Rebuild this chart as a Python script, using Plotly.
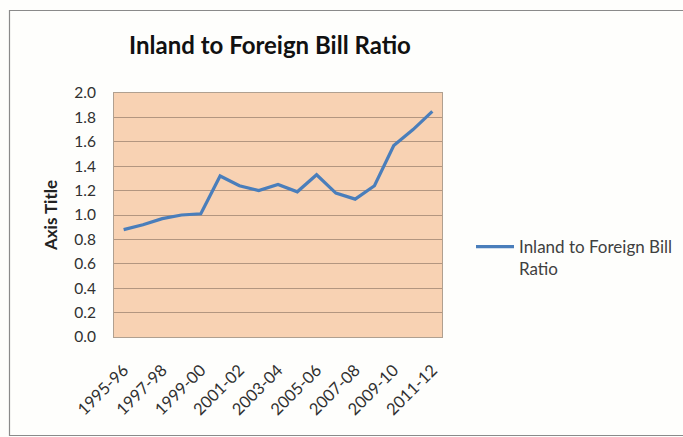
import plotly.graph_objects as go

# Fiscal years and the inland-to-foreign bill ratio for each
years = ["1995-96", "1996-97", "1997-98", "1998-99", "1999-00", "2000-01",
         "2001-02", "2002-03", "2003-04", "2004-05", "2005-06", "2006-07",
         "2007-08", "2008-09", "2009-10", "2010-11", "2011-12"]
ratio = [0.88, 0.92, 0.97, 1.00, 1.01, 1.32, 1.24, 1.20, 1.25, 1.19,
         1.33, 1.18, 1.13, 1.24, 1.57, 1.70, 1.85]
shown_years = years[::2]
y_ticks = [0.0, 0.2, 0.4, 0.6, 0.8, 1.0, 1.2, 1.4, 1.6, 1.8, 2.0]

W, H = 683, 437
L, R, T, B = 114, 241, 93, 100
pw, ph = W - L - R, H - T - B


def px(x):
    return (x - L) / pw


def py(y):
    return (H - B - y) / ph


font = "Lato, 'Open Sans', sans-serif"

fig = go.Figure()
fig.add_trace(go.Scatter(
    x=years, y=ratio, mode="lines",
    name="Inland to Foreign Bill<br>Ratio",
    line=dict(color="#4a7ebb", width=3.2),
))

fig.update_layout(
    width=W, height=H,
    margin=dict(l=L, r=R, t=T, b=B, autoexpand=False),
    paper_bgcolor="#fefefc",
    plot_bgcolor="#f8d2b3",
    title=dict(text="<b>Inland to Foreign Bill Ratio</b>",
               x=px(270), xref="paper", xanchor="center",
               y=1 - 46 / H, yanchor="middle",
               font=dict(family=font, size=24, color="#111111")),
    font=dict(family=font, color="#404040"),
    showlegend=True,
    legend=dict(x=px(471), y=py(229), xanchor="left", yanchor="top",
                valign="top",
                font=dict(size=17, color="#404040"),
                bgcolor="rgba(0,0,0,0)", itemwidth=38,
                tracegroupgap=0),
    xaxis=dict(type="category", tickmode="array", tickvals=shown_years,
               ticktext=shown_years, tickangle=-45, automargin=False,
               tickfont=dict(size=16.5, color="#303030"),
               ticklabelstandoff=16,
               showgrid=False, showline=True, linecolor="#b0a090",
               linewidth=1, mirror=True, ticks="", zeroline=False,
               range=[-0.5, len(years) - 0.5]),
    yaxis=dict(range=[0, 2.0], tickmode="array", tickvals=y_ticks,
               ticktext=[f"{v:.1f}" for v in y_ticks], automargin=False,
               tickfont=dict(size=15.5, color="#303030"),
               ticklabelstandoff=14,
               showgrid=True, gridcolor="#b39680", gridwidth=1,
               showline=True, linecolor="#b0a090", mirror=True,
               zeroline=False, ticks="",
               title=dict(text="<b>Axis Title</b>", standoff=12,
                          font=dict(size=17, color="#222222"))),
    shapes=[
        dict(type="rect", xref="paper", yref="paper",
             x0=px(9.5), x1=px(700), y0=py(435.5), y1=py(10.5),
             line=dict(color="#8a8a8a", width=1.2),
             fillcolor="rgba(0,0,0,0)", layer="below"),
    ],
)

fig.write_html("out.html")
